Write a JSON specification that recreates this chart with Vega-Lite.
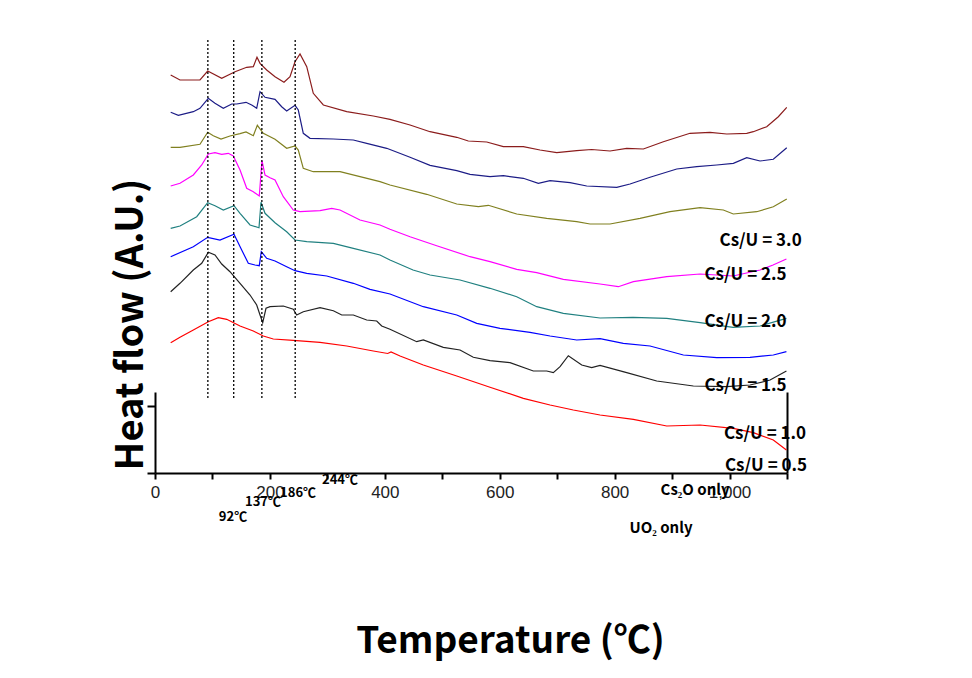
{
  "$schema": "https://vega.github.io/schema/vega-lite/v6.json",
  "width": 632,
  "height": 81,
  "autosize": {"type": "none"},
  "padding": {"left": 155, "top": 392, "right": 185, "bottom": 205},
  "background": "white",
  "config": {"view": {"stroke": null}, "font": "Noto Sans CJK KR"},
  "datasets": {
    "curves": [
      {"series":"maroon","T":27.3,"v":398},{"series":"maroon","T":43.5,"v":393},{"series":"maroon","T":78.3,"v":393},{"series":"maroon","T":91.7,"v":402},{"series":"maroon","T":116.1,"v":394.7},{"series":"maroon","T":139.3,"v":401.3},{"series":"maroon","T":159.6,"v":405.7},{"series":"maroon","T":171.1,"v":406.3},{"series":"maroon","T":177.5,"v":415.7},{"series":"maroon","T":182.8,"v":409.7},{"series":"maroon","T":194.4,"v":403},{"series":"maroon","T":208.9,"v":396.3},{"series":"maroon","T":224.5,"v":390.7},{"series":"maroon","T":235,"v":396.3},{"series":"maroon","T":243.7,"v":411.3},{"series":"maroon","T":252.4,"v":419},{"series":"maroon","T":264.1,"v":406.3},{"series":"maroon","T":275.5,"v":379.7},{"series":"maroon","T":293,"v":368},{"series":"maroon","T":333.7,"v":361.3},{"series":"maroon","T":380,"v":357},{"series":"maroon","T":409,"v":353.7},{"series":"maroon","T":443.9,"v":348},{"series":"maroon","T":478.7,"v":341.3},{"series":"maroon","T":525.2,"v":335.7},{"series":"maroon","T":545.3,"v":332},{"series":"maroon","T":577.4,"v":331},{"series":"maroon","T":606.3,"v":326.3},{"series":"maroon","T":641.1,"v":326.3},{"series":"maroon","T":670.1,"v":323},{"series":"maroon","T":699.2,"v":320.3},{"series":"maroon","T":734,"v":322.3},{"series":"maroon","T":760,"v":323.5},{"series":"maroon","T":792,"v":322},{"series":"maroon","T":821,"v":324.7},{"series":"maroon","T":850,"v":324},{"series":"maroon","T":884.8,"v":331.3},{"series":"maroon","T":931.2,"v":339.7},{"series":"maroon","T":966,"v":340.7},{"series":"maroon","T":995.1,"v":339},{"series":"maroon","T":1029.9,"v":339.7},{"series":"maroon","T":1041.4,"v":341.3},{"series":"maroon","T":1064.7,"v":346.3},{"series":"maroon","T":1084.9,"v":356.3},{"series":"maroon","T":1099.6,"v":365.7},

      {"series":"navy","T":27.3,"v":360.7},{"series":"navy","T":40.6,"v":357.7},{"series":"navy","T":66.7,"v":361.3},{"series":"navy","T":78.3,"v":364.7},{"series":"navy","T":92.8,"v":374.7},{"series":"navy","T":104.4,"v":369.7},{"series":"navy","T":118.9,"v":364.7},{"series":"navy","T":133.5,"v":369},{"series":"navy","T":142.2,"v":369},{"series":"navy","T":158.4,"v":370.7},{"series":"navy","T":168.3,"v":368},{"series":"navy","T":177,"v":364.7},{"series":"navy","T":182.8,"v":381.3},{"series":"navy","T":191.5,"v":375.7},{"series":"navy","T":208.9,"v":373.7},{"series":"navy","T":220.5,"v":366.3},{"series":"navy","T":229.2,"v":362},{"series":"navy","T":243.7,"v":367.7},{"series":"navy","T":249.4,"v":363},{"series":"navy","T":258.1,"v":339.7},{"series":"navy","T":269.8,"v":334.7},{"series":"navy","T":310.4,"v":334},{"series":"navy","T":345.2,"v":333},{"series":"navy","T":368.5,"v":329.7},{"series":"navy","T":403.3,"v":324.7},{"series":"navy","T":443.9,"v":315.7},{"series":"navy","T":478.7,"v":307.7},{"series":"navy","T":525.2,"v":302.3},{"series":"navy","T":548.3,"v":298.7},{"series":"navy","T":583.1,"v":296.3},{"series":"navy","T":606.3,"v":297.3},{"series":"navy","T":641.1,"v":294.7},{"series":"navy","T":667.2,"v":289.7},{"series":"navy","T":687.6,"v":292.3},{"series":"navy","T":722.4,"v":290.3},{"series":"navy","T":751.4,"v":287},{"series":"navy","T":803.7,"v":285.7},{"series":"navy","T":826.8,"v":289},{"series":"navy","T":861.6,"v":295.7},{"series":"navy","T":908.1,"v":304},{"series":"navy","T":942.9,"v":306.3},{"series":"navy","T":977.7,"v":308},{"series":"navy","T":1006.6,"v":309.7},{"series":"navy","T":1029.9,"v":315.3},{"series":"navy","T":1053.1,"v":312},{"series":"navy","T":1076.2,"v":313.7},{"series":"navy","T":1099.6,"v":325.3},

      {"series":"olive","T":27.3,"v":325.7},{"series":"olive","T":43.5,"v":325.7},{"series":"olive","T":78.3,"v":328.7},{"series":"olive","T":91.7,"v":340.7},{"series":"olive","T":101.5,"v":337.3},{"series":"olive","T":114.9,"v":334},{"series":"olive","T":130.5,"v":337},{"series":"olive","T":148,"v":339.3},{"series":"olive","T":158.4,"v":341},{"series":"olive","T":171.1,"v":337.3},{"series":"olive","T":178.1,"v":347.7},{"series":"olive","T":188.5,"v":339.7},{"series":"olive","T":208.9,"v":333.7},{"series":"olive","T":229.2,"v":324.7},{"series":"olive","T":243.7,"v":327},{"series":"olive","T":249.4,"v":323},{"series":"olive","T":258.1,"v":304.7},{"series":"olive","T":275.5,"v":301.3},{"series":"olive","T":322,"v":301.3},{"series":"olive","T":356.8,"v":296.3},{"series":"olive","T":391.6,"v":291.3},{"series":"olive","T":409,"v":288},{"series":"olive","T":472.9,"v":278.7},{"series":"olive","T":525.2,"v":269},{"series":"olive","T":562.8,"v":266.3},{"series":"olive","T":580.2,"v":267.7},{"series":"olive","T":629.6,"v":259},{"series":"olive","T":681.8,"v":254.7},{"series":"olive","T":734,"v":251.3},{"series":"olive","T":757.2,"v":249},{"series":"olive","T":792,"v":249},{"series":"olive","T":844.2,"v":254.7},{"series":"olive","T":896.4,"v":261.3},{"series":"olive","T":948.7,"v":265.3},{"series":"olive","T":989.2,"v":263},{"series":"olive","T":1006.6,"v":259},{"series":"olive","T":1047.3,"v":261.3},{"series":"olive","T":1076.2,"v":266.3},{"series":"olive","T":1099.6,"v":274},

      {"series":"magenta","T":27.3,"v":287},{"series":"magenta","T":43.5,"v":289.7},{"series":"magenta","T":66.7,"v":298},{"series":"magenta","T":81.3,"v":308},{"series":"magenta","T":92.8,"v":319},{"series":"magenta","T":104.4,"v":320.3},{"series":"magenta","T":116.1,"v":318.7},{"series":"magenta","T":127.6,"v":319.7},{"series":"magenta","T":136.3,"v":317},{"series":"magenta","T":148,"v":303},{"series":"magenta","T":159.6,"v":284.7},{"series":"magenta","T":171.1,"v":281.3},{"series":"magenta","T":181.5,"v":277},{"series":"magenta","T":186.2,"v":312.3},{"series":"magenta","T":191.5,"v":298},{"series":"magenta","T":200.2,"v":295.3},{"series":"magenta","T":208.9,"v":293},{"series":"magenta","T":223.3,"v":276.3},{"series":"magenta","T":240.7,"v":263},{"series":"magenta","T":252.4,"v":261.3},{"series":"magenta","T":287.2,"v":262.3},{"series":"magenta","T":307.6,"v":264.7},{"series":"magenta","T":322,"v":263},{"series":"magenta","T":356.8,"v":253},{"series":"magenta","T":391.6,"v":248},{"series":"magenta","T":409,"v":243.7},{"series":"magenta","T":443.9,"v":236.3},{"series":"magenta","T":490.3,"v":227.3},{"series":"magenta","T":548.3,"v":216.3},{"series":"magenta","T":583.1,"v":211.3},{"series":"magenta","T":629.6,"v":203.7},{"series":"magenta","T":664.4,"v":200.3},{"series":"magenta","T":710.7,"v":193.7},{"series":"magenta","T":774.6,"v":189},{"series":"magenta","T":806.4,"v":186.3},{"series":"magenta","T":832.6,"v":191.3},{"series":"magenta","T":890.7,"v":196.3},{"series":"magenta","T":948.7,"v":199},{"series":"magenta","T":1006.1,"v":197},{"series":"magenta","T":1053.1,"v":203},{"series":"magenta","T":1075.7,"v":208},{"series":"magenta","T":1099,"v":214},

      {"series":"teal","T":27.3,"v":244.7},{"series":"teal","T":43.5,"v":247},{"series":"teal","T":72.6,"v":256.3},{"series":"teal","T":91.7,"v":270.3},{"series":"teal","T":104.4,"v":267.3},{"series":"teal","T":118.9,"v":263},{"series":"teal","T":137.5,"v":267.3},{"series":"teal","T":148,"v":259.7},{"series":"teal","T":165.4,"v":248},{"series":"teal","T":181,"v":245.3},{"series":"teal","T":184.5,"v":270.7},{"series":"teal","T":191.5,"v":259.7},{"series":"teal","T":208.9,"v":250.3},{"series":"teal","T":229.2,"v":241.3},{"series":"teal","T":243.7,"v":233},{"series":"teal","T":264.1,"v":231.3},{"series":"teal","T":310.4,"v":229.7},{"series":"teal","T":345.2,"v":224.7},{"series":"teal","T":391.6,"v":218},{"series":"teal","T":409,"v":213},{"series":"teal","T":449.1,"v":203},{"series":"teal","T":478.7,"v":198},{"series":"teal","T":530.9,"v":193},{"series":"teal","T":583.1,"v":184.7},{"series":"teal","T":629.6,"v":176.3},{"series":"teal","T":664.4,"v":166.3},{"series":"teal","T":710.7,"v":159.7},{"series":"teal","T":774.6,"v":155},{"series":"teal","T":832,"v":155.7},{"series":"teal","T":890.7,"v":154.7},{"series":"teal","T":948.7,"v":150.3},{"series":"teal","T":1006.1,"v":145.7},{"series":"teal","T":1053.1,"v":147},{"series":"teal","T":1099,"v":154.7},

      {"series":"blue","T":27.3,"v":216.3},{"series":"blue","T":66.7,"v":226.3},{"series":"blue","T":91.7,"v":235.7},{"series":"blue","T":113.1,"v":233},{"series":"blue","T":137.5,"v":238.7},{"series":"blue","T":150.9,"v":223},{"series":"blue","T":162.4,"v":209.7},{"series":"blue","T":174.1,"v":208},{"series":"blue","T":181.5,"v":207.3},{"series":"blue","T":185,"v":221.3},{"series":"blue","T":194.4,"v":214.7},{"series":"blue","T":208.9,"v":212},{"series":"blue","T":229.2,"v":206.3},{"series":"blue","T":243.7,"v":202.3},{"series":"blue","T":264.1,"v":199.7},{"series":"blue","T":298.9,"v":197},{"series":"blue","T":345.2,"v":189.7},{"series":"blue","T":374.2,"v":183.7},{"series":"blue","T":409,"v":179},{"series":"blue","T":467,"v":166.3},{"series":"blue","T":525.2,"v":158},{"series":"blue","T":560,"v":149.7},{"series":"blue","T":600.5,"v":144.7},{"series":"blue","T":652.7,"v":140.7},{"series":"blue","T":687.6,"v":137},{"series":"blue","T":734,"v":133},{"series":"blue","T":774.6,"v":134.3},{"series":"blue","T":815.1,"v":129.7},{"series":"blue","T":861.6,"v":127},{"series":"blue","T":919.6,"v":118},{"series":"blue","T":977.7,"v":115.3},{"series":"blue","T":1035.7,"v":115.7},{"series":"blue","T":1076.2,"v":118},{"series":"blue","T":1099,"v":121.3},

      {"series":"black","T":27.3,"v":181.3},{"series":"black","T":43.5,"v":189.7},{"series":"black","T":66.7,"v":203},{"series":"black","T":81.3,"v":209.7},{"series":"black","T":92.8,"v":220.7},{"series":"black","T":104.4,"v":218},{"series":"black","T":116.1,"v":209},{"series":"black","T":130.5,"v":201.3},{"series":"black","T":148,"v":189.7},{"series":"black","T":165.4,"v":178},{"series":"black","T":177,"v":168},{"series":"black","T":182.8,"v":158},{"series":"black","T":187.5,"v":150.3},{"series":"black","T":193.2,"v":164.7},{"series":"black","T":200.2,"v":166.3},{"series":"black","T":223.3,"v":167},{"series":"black","T":240.7,"v":163.7},{"series":"black","T":246.6,"v":158},{"series":"black","T":258.1,"v":161.3},{"series":"black","T":287.2,"v":165.3},{"series":"black","T":310.4,"v":162.3},{"series":"black","T":325,"v":158},{"series":"black","T":345.2,"v":158},{"series":"black","T":368.5,"v":153},{"series":"black","T":385.9,"v":152},{"series":"black","T":394.6,"v":147},{"series":"black","T":409,"v":143.7},{"series":"black","T":455.5,"v":131.3},{"series":"black","T":467,"v":133},{"series":"black","T":501.8,"v":125.7},{"series":"black","T":530.9,"v":123},{"series":"black","T":554,"v":115.7},{"series":"black","T":583.1,"v":112.3},{"series":"black","T":617.9,"v":110.3},{"series":"black","T":658.5,"v":102},{"series":"black","T":681.8,"v":102},{"series":"black","T":693.3,"v":100.3},{"series":"black","T":705,"v":106.3},{"series":"black","T":719.4,"v":117.3},{"series":"black","T":742.7,"v":108},{"series":"black","T":760.1,"v":105.3},{"series":"black","T":774.6,"v":107.7},{"series":"black","T":821,"v":100.3},{"series":"black","T":873.3,"v":92},{"series":"black","T":937,"v":87},{"series":"black","T":995.1,"v":86.3},{"series":"black","T":1035.7,"v":88},{"series":"black","T":1070.5,"v":93},{"series":"black","T":1099,"v":102},

      {"series":"red","T":27.3,"v":130.3},{"series":"red","T":43.5,"v":135.7},{"series":"red","T":66.7,"v":143},{"series":"red","T":92.8,"v":151.3},{"series":"red","T":110.2,"v":155.3},{"series":"red","T":124.8,"v":153.7},{"series":"red","T":148,"v":147},{"series":"red","T":171.1,"v":142},{"series":"red","T":188.5,"v":137},{"series":"red","T":205.9,"v":134},{"series":"red","T":240.7,"v":132.7},{"series":"red","T":287.2,"v":130.7},{"series":"red","T":333.7,"v":127},{"series":"red","T":380,"v":122},{"series":"red","T":405,"v":119.5},{"series":"red","T":410.8,"v":121},{"series":"red","T":426.5,"v":117},{"series":"red","T":467,"v":108},{"series":"red","T":525.2,"v":97},{"series":"red","T":583.1,"v":85.7},{"series":"red","T":641.1,"v":74.7},{"series":"red","T":687.6,"v":68},{"series":"red","T":728.1,"v":63},{"series":"red","T":774.6,"v":58},{"series":"red","T":832.6,"v":53.7},{"series":"red","T":890.7,"v":47},{"series":"red","T":948.7,"v":48},{"series":"red","T":1006.6,"v":44.7},{"series":"red","T":1041.4,"v":40.3},{"series":"red","T":1076.2,"v":33},{"series":"red","T":1099,"v":23}
    ],
    "guides": [
      {"T": 92, "v1": 75, "v2": 435},
      {"T": 137, "v1": 75, "v2": 435},
      {"T": 186, "v1": 75, "v2": 435},
      {"T": 244, "v1": 75, "v2": 435}
    ],
    "ratioLabels": [
      {"label": "Cs/U = 3.0", "T": 1054, "v": 232.3},
      {"label": "Cs/U = 2.5", "T": 1027.8, "v": 198},
      {"label": "Cs/U = 2.0", "T": 1027.8, "v": 150.7},
      {"label": "Cs/U = 1.5", "T": 1027.8, "v": 87.3},
      {"label": "Cs/U = 1.0", "T": 1061.8, "v": 39},
      {"label": "Cs/U = 0.5", "T": 1063.5, "v": 7.3}
    ],
    "peakLabels": [
      {"label": "92℃", "T": 135.8, "v": -44},
      {"label": "137℃", "T": 188, "v": -29},
      {"label": "186℃", "T": 249, "v": -20},
      {"label": "244℃", "T": 322, "v": -7}
    ],
    "phaseLabels": [
      {"label": "Cs₂O only", "T": 940, "v": -17},
      {"label": "UO₂ only", "T": 880.8, "v": -55}
    ]
  },
  "layer": [
    {
      "data": {"name": "curves"},
      "mark": {"type": "line", "strokeWidth": 1.2},
      "encoding": {
        "x": {"field": "T", "type": "quantitative",
          "scale": {"domain": [0, 1100], "nice": false, "zero": false},
          "axis": {"values": [0,100,200,300,400,500,600,700,800,900,1000,1100],
            "labelExpr": "datum.value % 200 == 0 && datum.value < 1100 ? datum.label : ''",
            "tickSize": 6, "tickWidth": 2, "domainWidth": 2, "domainColor": "black", "tickColor": "black",
            "labelFont": "Liberation Sans", "labelFontSize": 17, "labelColor": "#222", "labelPadding": 5, "labelFlush": false,
            "grid": false, "title": "Temperature (℃)", "titleFont": "Noto Sans CJK KR", "titleFontSize": 37, "titleFontWeight": "bold",
            "titleX": 355, "titleY": 179, "titleBaseline": "alphabetic", "titleAlign": "center", "titleColor": "black"}},
        "y": {"field": "v", "type": "quantitative",
          "scale": {"domain": [0, 81], "nice": false, "zero": false},
          "axis": {"orient": "left", "values": [0, 67], "labels": false, "tickSize": 8, "tickWidth": 2, "tickColor": "black",
            "domainWidth": 2, "domainColor": "black", "grid": false,
            "title": "Heat flow (A.U.)", "titleFont": "Noto Sans CJK KR", "titleFontSize": 38, "titleFontWeight": "bold",
            "titleX": -13, "titleY": -68, "titleAngle": 270, "titleBaseline": "alphabetic", "titleAlign": "center", "titleColor": "black"}},
        "color": {"field": "series", "type": "nominal",
          "scale": {"domain": ["maroon","navy","olive","magenta","teal","blue","black","red"],
                    "range": ["#8B1C1C","#1C1C86","#808020","#FF00FF","#208080","#0000FF","#222222","#FF0000"]},
          "legend": null}
      }
    },
    {
      "data": {"name": "guides"},
      "mark": {"type": "rule", "strokeDash": [2, 2], "strokeWidth": 1.3, "color": "black"},
      "encoding": {
        "x": {"field": "T", "type": "quantitative", "scale": {"domain": [0, 1100], "nice": false, "zero": false}},
        "y": {"field": "v1", "type": "quantitative", "scale": {"domain": [0, 81], "nice": false, "zero": false},
          "axis": {"orient": "right", "labels": false, "ticks": false, "title": null, "grid": false, "domainWidth": 2, "domainColor": "black"}},
        "y2": {"field": "v2"}
      }
    },
    {
      "data": {"name": "ratioLabels"},
      "mark": {"type": "text", "font": "Noto Sans CJK KR", "fontSize": 17, "fontWeight": "bold", "color": "black", "align": "center", "baseline": "middle"},
      "encoding": {
        "x": {"field": "T", "type": "quantitative", "scale": {"domain": [0, 1100], "nice": false, "zero": false}},
        "y": {"field": "v", "type": "quantitative", "scale": {"domain": [0, 81], "nice": false, "zero": false}, "axis": null},
        "text": {"field": "label"}
      }
    },
    {
      "data": {"name": "peakLabels"},
      "mark": {"type": "text", "font": "Noto Sans CJK KR", "fontSize": 13, "fontWeight": "bold", "color": "black", "align": "center", "baseline": "middle"},
      "encoding": {
        "x": {"field": "T", "type": "quantitative", "scale": {"domain": [0, 1100], "nice": false, "zero": false}},
        "y": {"field": "v", "type": "quantitative", "scale": {"domain": [0, 81], "nice": false, "zero": false}, "axis": null},
        "text": {"field": "label"}
      }
    },
    {
      "data": {"name": "phaseLabels"},
      "mark": {"type": "text", "font": "Noto Sans CJK KR", "fontSize": 15, "fontWeight": "bold", "color": "black", "align": "center", "baseline": "middle"},
      "encoding": {
        "x": {"field": "T", "type": "quantitative", "scale": {"domain": [0, 1100], "nice": false, "zero": false}},
        "y": {"field": "v", "type": "quantitative", "scale": {"domain": [0, 81], "nice": false, "zero": false}, "axis": null},
        "text": {"field": "label"}
      }
    }
  ],
  "resolve": {"axis": {"y": "independent"}}
}
